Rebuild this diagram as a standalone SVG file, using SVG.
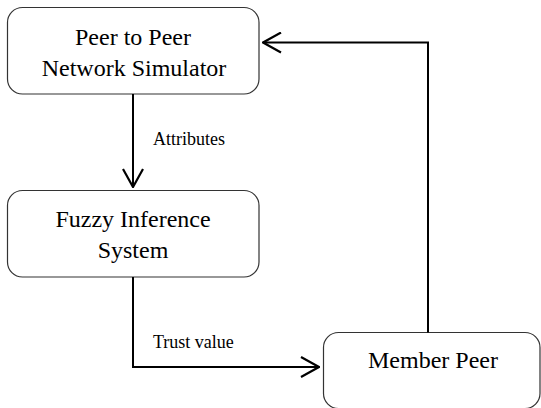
<svg xmlns="http://www.w3.org/2000/svg" width="541" height="408" viewBox="0 0 541 408">
<style>
.box{fill:#fff;stroke:#333;stroke-width:1.2}
.t{font-family:"Liberation Serif","Times New Roman",serif;font-size:24px;fill:#000;text-anchor:middle}
.l{font-family:"Liberation Serif","Times New Roman",serif;font-size:18px;fill:#000}
.c{fill:none;stroke:#000;stroke-width:2}
</style>
<defs>
<marker id="ah" viewBox="0 0 20 22" refX="19" refY="11" markerWidth="20" markerHeight="22" markerUnits="userSpaceOnUse" orient="auto">
<path d="M1,1 L19,11 L1,21" fill="none" stroke="#000" stroke-width="2.2"/>
</marker>
</defs>
<g id="n1"><rect class="box" x="7.5" y="7.5" width="251.5" height="86.5" rx="15"/>
<text class="t" x="133" y="44.5">Peer to Peer</text>
<text class="t" x="134" y="76">Network Simulator</text></g>
<g id="n2"><rect class="box" x="7.5" y="190.5" width="251.5" height="86.5" rx="15"/>
<text class="t" x="133" y="226.5">Fuzzy Inference</text>
<text class="t" x="133" y="258">System</text></g>
<g id="n3"><rect class="box" x="323.5" y="332.5" width="216.5" height="76" rx="15"/>
<text class="t" x="433" y="367.5">Member Peer</text></g>
<g id="edges">
<path class="c" d="M133,94 V187" marker-end="url(#ah)"/>
<path class="c" d="M133,277 V367 H319" marker-end="url(#ah)"/>
<path class="c" d="M428,332.5 V42.5 H263" marker-end="url(#ah)"/>
<text class="l" x="153" y="145">Attributes</text>
<text class="l" x="153" y="348">Trust value</text>
</g>
</svg>
